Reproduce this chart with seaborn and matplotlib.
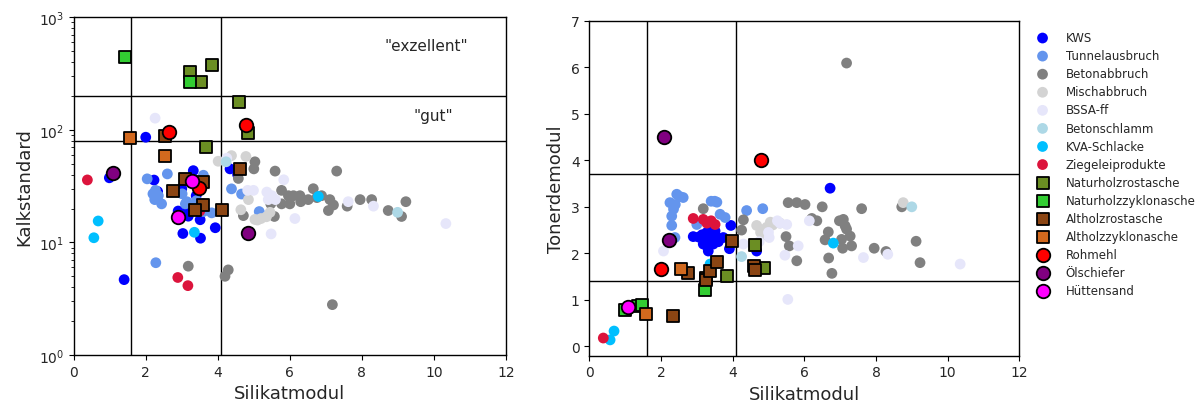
import matplotlib
matplotlib.use("Agg")
import matplotlib.pyplot as plt
import seaborn as sns
import pandas as pd

# ---------------- data (left panel: Silikatmodul vs Kalkstandard) ----------------
KWS_SM_KS = [2.0, 0.99, 2.23, 3.32, 4.34, 4.55, 2.33, 3.18, 3.51, 3.93, 3.03, 3.52, 1.40, 3.18, 3.6, 3.0, 2.9, 3.4]
KWS_KS = [86, 37.5, 35.8, 43.4, 45, 40, 28.3, 17.1, 15.9, 13.5, 12.0, 10.9, 4.67, 19.5, 22, 30, 19, 26]
TUN_SM_KS = [2.04, 2.60, 3.60, 2.27, 2.35, 2.25, 2.32, 2.44, 3.01, 3.14, 3.41, 3.60, 3.83, 4.38, 4.66, 5.15, 2.28, 2.2, 3.1]
TUN_KS = [36.7, 40.6, 39.5, 29, 26, 24, 25, 22, 27, 23, 23.5, 18.8, 18.3, 29.9, 26.9, 18.8, 6.6, 27, 22]
BET_SM_KS = [5.03, 5.0, 5.59, 7.30, 4.57, 5.77, 5.96, 6.10, 6.28, 6.51, 6.65, 6.88, 7.11, 7.21, 7.07, 5.77,
             6.0, 5.47, 5.57, 4.71, 7.59, 7.95, 8.27, 8.73, 9.10, 9.22, 3.18, 4.29, 4.20, 7.18, 6.3, 6.75]
BET_KS = [52, 45, 43, 43, 37, 29, 26, 26, 26, 24, 30, 26, 24, 21.5, 19.2, 22,
          22, 22, 17, 17.3, 21, 24, 24, 19.2, 17, 23, 6.15, 5.7, 5.0, 2.8, 23, 25]
MIS_SM_KS = [4.01, 4.38, 4.78, 4.85, 4.64, 5.03, 5.2, 5.35, 5.45, 5.1]
MIS_KS = [52.6, 59, 58, 24, 19.5, 16, 16.3, 16.9, 18.5, 15.8]
BSSA_SM_KS = [2.26, 5.83, 4.83, 4.99, 5.36, 5.5, 5.4, 7.62, 8.32, 6.14, 5.48, 10.33, 5.6, 4.25]
BSSA_KS = [127, 36, 29, 29, 28, 26, 24, 23, 21, 16.3, 11.9, 14.7, 24, 56]
BSL_SM_KS = [4.23, 8.99]
BSL_KS = [52, 18.5]
KVA_SM_KS = [0.68, 0.56, 3.35, 6.79]
KVA_KS = [15.5, 11.0, 12.3, 25.6]
ZIE_SM_KS = [0.38, 2.89, 3.17, 3.5]
ZIE_KS = [35.9, 4.88, 4.13, 19]
NHR_SM_KS = [3.23, 3.83, 3.53, 4.60, 4.83, 3.67]
NHR_KS = [329, 375, 268, 178, 93, 71]
NHZ_SM_KS = [1.42, 3.23]
NHZ_KS = [447, 265]
AHR_SM_KS = [2.53, 4.62, 3.09, 3.60, 2.75, 3.58, 3.37, 4.11]
AHR_KS = [89, 45, 36.6, 34.3, 28.5, 21.7, 19.4, 19.5]
AHZ_SM_KS = [1.56, 2.54]
AHZ_KS = [84, 59]
ROH_SM_KS = [2.64, 4.79, 3.49]
ROH_KS = [96, 111, 30.7]
OEL_SM_KS = [1.08, 4.85]
OEL_KS = [41.4, 12.1]
HUE_SM_KS = [3.29, 2.90]
HUE_KS = [35, 16.9]

# ---------------- data (right panel: Silikatmodul vs Tonerdemodul) ----------------
KWS_SM_TM = [6.72, 2.90, 3.05, 3.18, 3.28, 3.32, 3.46, 3.56, 3.74, 3.95, 3.91, 3.28, 3.51, 4.67, 3.2, 3.4, 3.6, 3.45, 3.35, 3.15]
KWS_TM = [3.40, 2.36, 2.35, 2.20, 2.16, 2.05, 2.20, 2.34, 2.34, 2.60, 2.10, 2.45, 2.48, 2.05, 2.32, 2.35, 2.25, 2.55, 2.28, 2.4]
TUN_SM_TM = [2.44, 2.53, 2.62, 2.25, 2.40, 2.30, 2.30, 2.39, 3.40, 3.50, 3.56, 3.65, 3.79, 3.0, 4.39, 4.84, 2.35]
TUN_TM = [3.27, 3.22, 3.20, 3.09, 3.05, 2.80, 2.60, 2.34, 3.12, 3.12, 3.10, 2.84, 2.77, 2.62, 2.92, 2.96, 2.95]
BET_SM_TM = [7.18, 3.18, 4.30, 4.25, 5.55, 5.79, 6.02, 6.50, 7.60, 6.21, 6.35, 6.67, 6.58, 6.98, 7.09, 7.14,
             7.18, 7.28, 7.04, 7.32, 7.07, 5.49, 5.58, 5.79, 6.68, 6.77, 7.95, 8.28, 8.72, 9.12, 9.23]
BET_TM = [6.09, 2.96, 2.72, 2.50, 3.09, 3.09, 3.05, 3.0, 2.96, 2.75, 2.70, 2.46, 2.29, 2.70, 2.73, 2.59,
          2.52, 2.37, 2.30, 2.16, 2.11, 2.36, 2.16, 1.84, 1.90, 1.57, 2.11, 2.04, 3.0, 2.26, 1.80]
MIS_SM_TM = [4.67, 4.78, 4.95, 5.12, 5.32, 5.05, 8.76, 4.9]
MIS_TM = [2.60, 2.45, 2.56, 2.61, 2.65, 2.67, 3.09, 2.40]
BSSA_SM_TM = [2.07, 4.30, 4.74, 5.02, 5.32, 5.51, 5.25, 6.14, 5.83, 5.46, 7.65, 8.33, 10.35, 5.54, 5.0]
BSSA_TM = [2.05, 2.20, 2.25, 2.34, 2.65, 2.62, 2.70, 2.70, 2.16, 1.96, 1.91, 1.98, 1.77, 1.01, 2.45]
BSL_SM_TM = [9.0, 4.25]
BSL_TM = [3.0, 1.93]
KVA_SM_TM = [0.69, 0.58, 6.81, 3.37]
KVA_TM = [0.33, 0.14, 2.22, 1.77]
ZIE_SM_TM = [0.39, 2.90, 3.18, 3.28, 3.51, 3.4]
ZIE_TM = [0.18, 2.75, 2.73, 2.65, 2.62, 2.7]
NHR_SM_TM = [4.62, 4.87, 3.83]
NHR_TM = [2.17, 1.68, 1.51]
NHZ_SM_TM = [3.23, 0.99, 1.37, 1.46]
NHZ_TM = [1.21, 0.78, 0.87, 0.89]
AHR_SM_TM = [2.75, 3.25, 3.25, 3.37, 3.57, 3.97, 4.61, 4.62, 2.33]
AHR_TM = [1.58, 1.48, 1.42, 1.63, 1.82, 2.26, 1.72, 1.65, 0.66]
AHZ_SM_TM = [2.55, 1.58]
AHZ_TM = [1.66, 0.69]
ROH_SM_TM = [4.80, 1.99]
ROH_TM = [4.0, 1.67]
OEL_SM_TM = [2.09, 2.22]
OEL_TM = [4.50, 2.29]
HUE_SM_TM = [1.09]
HUE_TM = [0.84]

LABELS = ["KWS", "Tunnelausbruch", "Betonabbruch", "Mischabbruch", "BSSA-ff", "Betonschlamm",
          "KVA-Schlacke", "Ziegeleiprodukte", "Naturholzrostasche", "Naturholzzyklonasche",
          "Altholzrostasche", "Altholzzyklonasche", "Rohmehl", "Ölschiefer", "Hüttensand"]

LEFT = [(KWS_SM_KS, KWS_KS), (TUN_SM_KS, TUN_KS), (BET_SM_KS, BET_KS), (MIS_SM_KS, MIS_KS),
        (BSSA_SM_KS, BSSA_KS), (BSL_SM_KS, BSL_KS), (KVA_SM_KS, KVA_KS), (ZIE_SM_KS, ZIE_KS),
        (NHR_SM_KS, NHR_KS), (NHZ_SM_KS, NHZ_KS), (AHR_SM_KS, AHR_KS), (AHZ_SM_KS, AHZ_KS),
        (ROH_SM_KS, ROH_KS), (OEL_SM_KS, OEL_KS), (HUE_SM_KS, HUE_KS)]
RIGHT = [(KWS_SM_TM, KWS_TM), (TUN_SM_TM, TUN_TM), (BET_SM_TM, BET_TM), (MIS_SM_TM, MIS_TM),
         (BSSA_SM_TM, BSSA_TM), (BSL_SM_TM, BSL_TM), (KVA_SM_TM, KVA_TM), (ZIE_SM_TM, ZIE_TM),
         (NHR_SM_TM, NHR_TM), (NHZ_SM_TM, NHZ_TM), (AHR_SM_TM, AHR_TM), (AHZ_SM_TM, AHZ_TM),
         (ROH_SM_TM, ROH_TM), (OEL_SM_TM, OEL_TM), (HUE_SM_TM, HUE_TM)]

# ---------------- styles ----------------
COLORS = ["blue", "cornflowerblue", "gray", "lightgray", "lavender", "lightblue", "deepskyblue",
          "crimson", "olivedrab", "limegreen", "saddlebrown", "chocolate", "red", "purple", "magenta"]
MARKERS = ["o"] * 8 + ["s"] * 4 + ["o"] * 3
EDGED = [False] * 8 + [True] * 7

sns.set_style("white")
plt.rcParams["font.family"] = ["DejaVu Sans"]
plt.rcParams["xtick.direction"] = "out"
plt.rcParams["ytick.direction"] = "out"

fig = plt.figure(figsize=(12, 4.06), dpi=100)
ax1 = fig.add_axes([0.0614, 0.1232, 0.3603, 0.8318])
ax2 = fig.add_axes([0.4911, 0.1214, 0.3583, 0.8251])


def draw(ax, datasets):
    for (xs, ys), lab, col, mk, ed in zip(datasets, LABELS, COLORS, MARKERS, EDGED):
        df = pd.DataFrame({"x": xs, "y": ys})
        if ed:
            size = 70 if mk == "s" else 95
            sns.scatterplot(data=df, x="x", y="y", ax=ax, color=col, marker=mk, s=size,
                            edgecolor="black", linewidth=1.3, label=lab, zorder=3)
        else:
            sns.scatterplot(data=df, x="x", y="y", ax=ax, color=col, marker=mk, s=60,
                            edgecolor="none", linewidth=0, label=lab, zorder=3)
    leg = ax.get_legend()
    if leg is not None:
        leg.remove()


draw(ax1, LEFT)
draw(ax2, RIGHT)

# left panel
ax1.set_yscale("log")
ax1.set_xlim(0, 12)
ax1.set_ylim(1, 1000)
ax1.set_xticks(range(0, 13, 2))
for xv in (1.6, 4.1):
    ax1.axvline(xv, color="black", lw=1, zorder=1)
for yv in (200, 80):
    ax1.axhline(yv, color="black", lw=1, zorder=1)
ax1.text(9.8, 560, '"exzellent"', fontsize=11, ha="center", va="center")
ax1.text(9.98, 134, '"gut"', fontsize=11, ha="center", va="center")
ax1.set_xlabel("Silikatmodul", fontsize=13)
ax1.set_ylabel("Kalkstandard", fontsize=13)

# right panel
ax2.set_xlim(0, 12)
ax2.set_ylim(-0.2, 7)
ax2.set_xticks(range(0, 13, 2))
ax2.set_yticks(range(0, 8))
for xv in (1.6, 4.1):
    ax2.axvline(xv, color="black", lw=1, zorder=1)
for yv in (3.7, 1.4):
    ax2.axhline(yv, color="black", lw=1, zorder=1)
ax2.set_xlabel("Silikatmodul", fontsize=13)
ax2.set_ylabel("Tonerdemodul", fontsize=13)

for ax in (ax1, ax2):
    for sp in ax.spines.values():
        sp.set_visible(True)
        sp.set_color("black")
        sp.set_linewidth(1)
    ax.tick_params(axis="both", which="both", direction="out", color="black", labelsize=10,
                   left=True, bottom=True)
    ax.tick_params(axis="both", which="major", length=3.5, width=0.8)
    ax.tick_params(axis="both", which="minor", length=2, width=0.6)

handles, labels = ax2.get_legend_handles_labels()
fig.legend(handles, labels, loc="upper left", bbox_to_anchor=(0.855, 0.9325),
           frameon=False, fontsize=8.5, borderaxespad=0, labelspacing=0.43,
           handletextpad=0.95)

fig.savefig("out.png", dpi=100)
